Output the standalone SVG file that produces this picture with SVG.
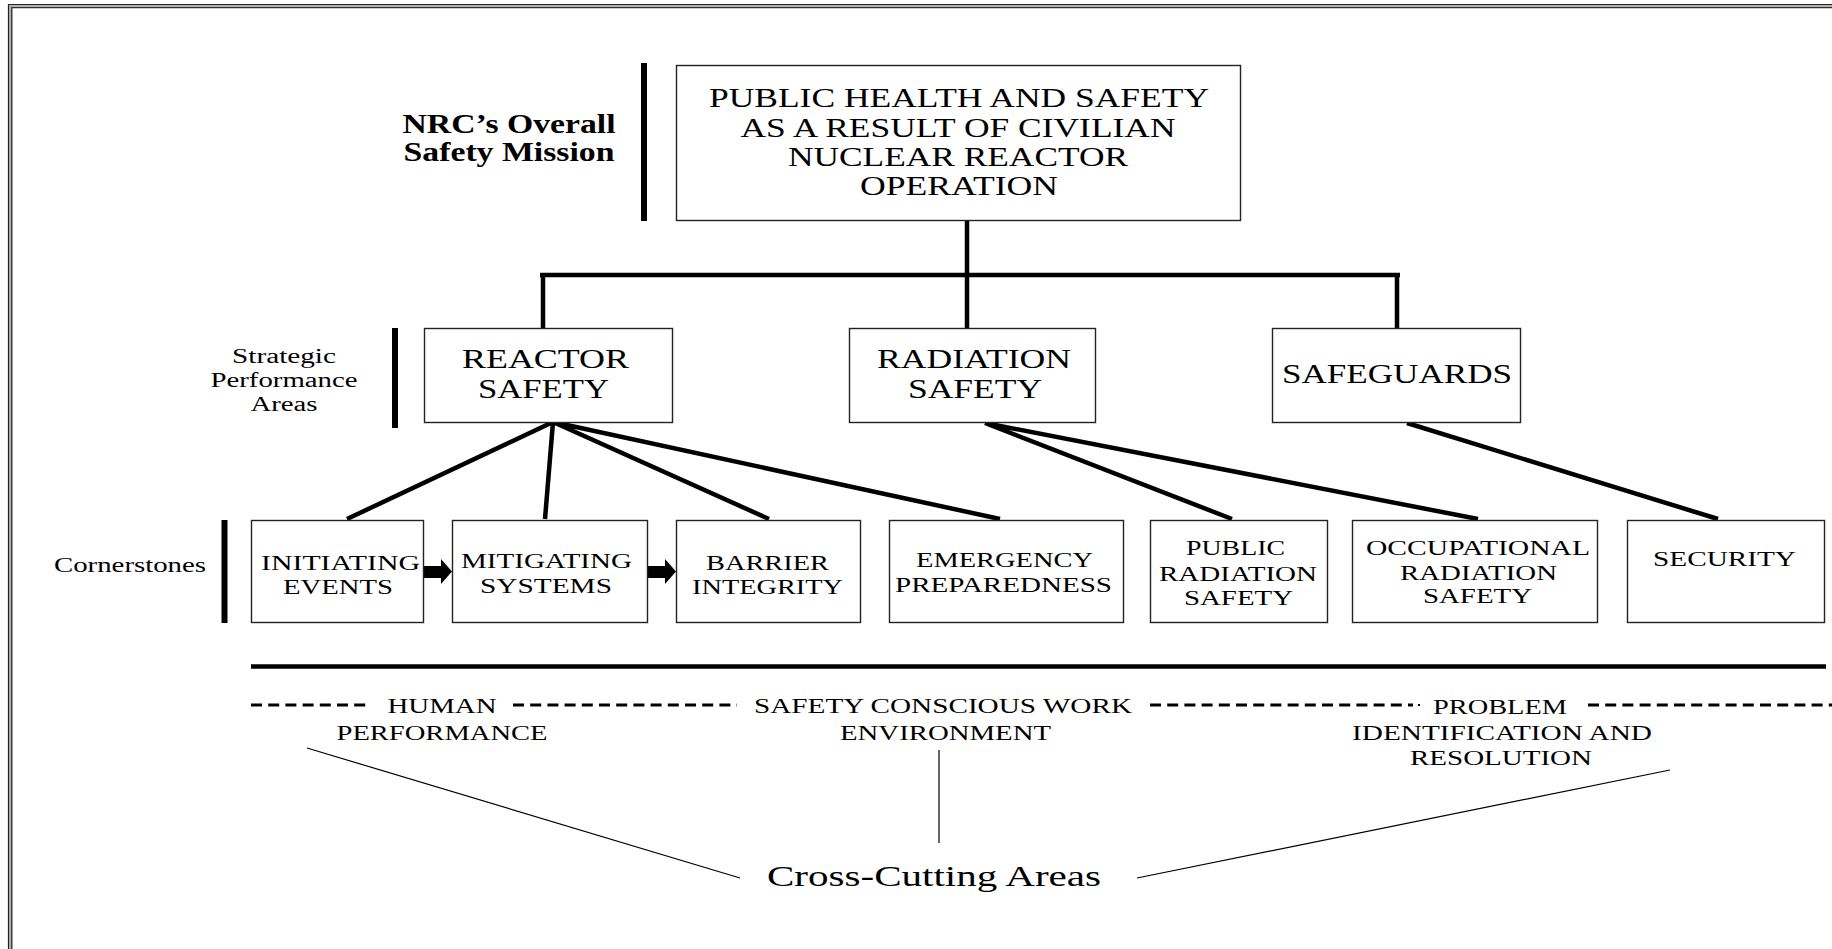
<svg xmlns="http://www.w3.org/2000/svg" width="1832" height="949" viewBox="0 0 1832 949">
<style>
.box{fill:#fff;stroke:#222;stroke-width:1.4}
.t{font-family:"Liberation Serif","Times New Roman",serif;fill:#000;text-anchor:middle}
.big{font-size:28px}
.sm{font-size:20px}
.nrc{font-size:27px;font-weight:bold}
.cc{font-size:30px}
.thick{stroke:#000;stroke-width:4.5;fill:none;stroke-linecap:butt}
.bar{stroke:#000;stroke-width:6;fill:none}
.thin{stroke:#000;stroke-width:1.2;fill:none}
.dash{stroke:#000;stroke-width:3;fill:none;stroke-dasharray:11 6.2}
</style>
<rect width="1832" height="949" fill="#fff"/>
<g id="frame" fill="none">
<path d="M8.5,960 V4.5 H1840" stroke="#222" stroke-width="1.2"/>
<path d="M10,960 V6 H1840" stroke="#999" stroke-width="1.6"/>
<path d="M11.8,960 V7.6 H1840" stroke="#333" stroke-width="1.4"/>
</g>
<g id="labels">
<text class="t nrc" x="509" y="133" textLength="213" lengthAdjust="spacingAndGlyphs">NRC’s Overall</text>
<text class="t nrc" x="509" y="161" textLength="211" lengthAdjust="spacingAndGlyphs">Safety Mission</text>
<path class="bar" d="M644,63 V221"/>
<text class="t sm" x="284" y="363" textLength="104" lengthAdjust="spacingAndGlyphs">Strategic</text>
<text class="t sm" x="284" y="387" textLength="147" lengthAdjust="spacingAndGlyphs">Performance</text>
<text class="t sm" x="284" y="411" textLength="67" lengthAdjust="spacingAndGlyphs">Areas</text>
<path class="bar" d="M395,328 V428"/>
<text class="t sm" x="130" y="572" textLength="152" lengthAdjust="spacingAndGlyphs">Cornerstones</text>
<path class="bar" d="M224.5,520 V623"/>
</g>
<g id="connectors">
<path class="thick" d="M967,221 V328 M540,275 H1400 M543,275 V328 M1397,275 V328" stroke-width="5"/>
<path class="thick" d="M553,422 L347,519 M553,422 L545,519 M553,422 L769,519 M553,422 L1000,519"/>
<path class="thick" d="M985,423 L1232,519 M985,423 L1478,519"/>
<path class="thick" d="M1407,423 L1718,519"/>
<polygon points="424,566 441,566 441,559 452,571.5 441,584 441,578 424,578" fill="#000"/>
<polygon points="648,566 665,566 665,559 676,571.5 665,584 665,578 648,578" fill="#000"/>
</g>
<g id="mission">
<rect class="box" x="676.5" y="65.5" width="564" height="155"/>
<text class="t big" x="959" y="107" textLength="500" lengthAdjust="spacingAndGlyphs">PUBLIC HEALTH AND SAFETY</text>
<text class="t big" x="958" y="137" textLength="435" lengthAdjust="spacingAndGlyphs">AS A RESULT OF CIVILIAN</text>
<text class="t big" x="958" y="166" textLength="340" lengthAdjust="spacingAndGlyphs">NUCLEAR REACTOR</text>
<text class="t big" x="959" y="195" textLength="198" lengthAdjust="spacingAndGlyphs">OPERATION</text>
</g>
<g id="reactor-safety">
<rect class="box" x="424.5" y="328.5" width="248" height="94"/>
<text class="t big" x="545.5" y="368" textLength="167" lengthAdjust="spacingAndGlyphs">REACTOR</text>
<text class="t big" x="543.5" y="398" textLength="131" lengthAdjust="spacingAndGlyphs">SAFETY</text>
</g>
<g id="radiation-safety">
<rect class="box" x="849.5" y="328.5" width="246" height="94"/>
<text class="t big" x="974" y="368" textLength="194" lengthAdjust="spacingAndGlyphs">RADIATION</text>
<text class="t big" x="975" y="398" textLength="134" lengthAdjust="spacingAndGlyphs">SAFETY</text>
</g>
<g id="safeguards">
<rect class="box" x="1272.5" y="328.5" width="248" height="94"/>
<text class="t big" x="1397" y="383" textLength="230" lengthAdjust="spacingAndGlyphs">SAFEGUARDS</text>
</g>
<g id="initiating-events">
<rect class="box" x="251.5" y="520.5" width="172" height="102"/>
<text class="t sm" x="340.5" y="570" textLength="159" lengthAdjust="spacingAndGlyphs">INITIATING</text>
<text class="t sm" x="338" y="594" textLength="110" lengthAdjust="spacingAndGlyphs">EVENTS</text>
</g>
<g id="mitigating-systems">
<rect class="box" x="452.5" y="520.5" width="195" height="102"/>
<text class="t sm" x="546.5" y="568" textLength="171" lengthAdjust="spacingAndGlyphs">MITIGATING</text>
<text class="t sm" x="546" y="593" textLength="132" lengthAdjust="spacingAndGlyphs">SYSTEMS</text>
</g>
<g id="barrier-integrity">
<rect class="box" x="676.5" y="520.5" width="184" height="102"/>
<text class="t sm" x="767.5" y="570" textLength="123" lengthAdjust="spacingAndGlyphs">BARRIER</text>
<text class="t sm" x="767.5" y="594" textLength="151" lengthAdjust="spacingAndGlyphs">INTEGRITY</text>
</g>
<g id="emergency-preparedness">
<rect class="box" x="889.5" y="520.5" width="234" height="102"/>
<text class="t sm" x="1004.5" y="567" textLength="177" lengthAdjust="spacingAndGlyphs">EMERGENCY</text>
<text class="t sm" x="1003.5" y="592" textLength="217" lengthAdjust="spacingAndGlyphs">PREPAREDNESS</text>
</g>
<g id="public-radiation-safety">
<rect class="box" x="1150.5" y="520.5" width="177" height="102"/>
<text class="t sm" x="1235.5" y="555" textLength="99" lengthAdjust="spacingAndGlyphs">PUBLIC</text>
<text class="t sm" x="1238" y="581" textLength="158" lengthAdjust="spacingAndGlyphs">RADIATION</text>
<text class="t sm" x="1238.5" y="605" textLength="109" lengthAdjust="spacingAndGlyphs">SAFETY</text>
</g>
<g id="occupational-radiation-safety">
<rect class="box" x="1352.5" y="520.5" width="245" height="102"/>
<text class="t sm" x="1478" y="555" textLength="224" lengthAdjust="spacingAndGlyphs">OCCUPATIONAL</text>
<text class="t sm" x="1478.5" y="580" textLength="157" lengthAdjust="spacingAndGlyphs">RADIATION</text>
<text class="t sm" x="1477.5" y="603" textLength="109" lengthAdjust="spacingAndGlyphs">SAFETY</text>
</g>
<g id="security">
<rect class="box" x="1627.5" y="520.5" width="197" height="102"/>
<text class="t sm" x="1724.5" y="566" textLength="143" lengthAdjust="spacingAndGlyphs">SECURITY</text>
</g>
<g id="cross-cutting">
<path class="thick" d="M251,666.5 H1826" stroke-width="5"/>
<path class="dash" d="M251,705 H368 M513,705 H737 M1150,705 H1413 M1588,705 H1832"/>
<rect x="1418" y="704" width="2" height="2" fill="#000"/>
<text class="t sm" x="442" y="713" textLength="109" lengthAdjust="spacingAndGlyphs">HUMAN</text>
<text class="t sm" x="442" y="740" textLength="211" lengthAdjust="spacingAndGlyphs">PERFORMANCE</text>
<text class="t sm" x="943" y="713" textLength="378" lengthAdjust="spacingAndGlyphs">SAFETY CONSCIOUS WORK</text>
<text class="t sm" x="945.5" y="740" textLength="211" lengthAdjust="spacingAndGlyphs">ENVIRONMENT</text>
<text class="t sm" x="1500" y="714" textLength="134" lengthAdjust="spacingAndGlyphs">PROBLEM</text>
<text class="t sm" x="1502" y="740" textLength="300" lengthAdjust="spacingAndGlyphs">IDENTIFICATION AND</text>
<text class="t sm" x="1501" y="765" textLength="182" lengthAdjust="spacingAndGlyphs">RESOLUTION</text>
<path class="thin" d="M307,748 L740,878 M939,750 V843 M1137,878 L1670,770"/>
<text class="t cc" x="934" y="886" textLength="334" lengthAdjust="spacingAndGlyphs">Cross-Cutting Areas</text>
</g>
</svg>
